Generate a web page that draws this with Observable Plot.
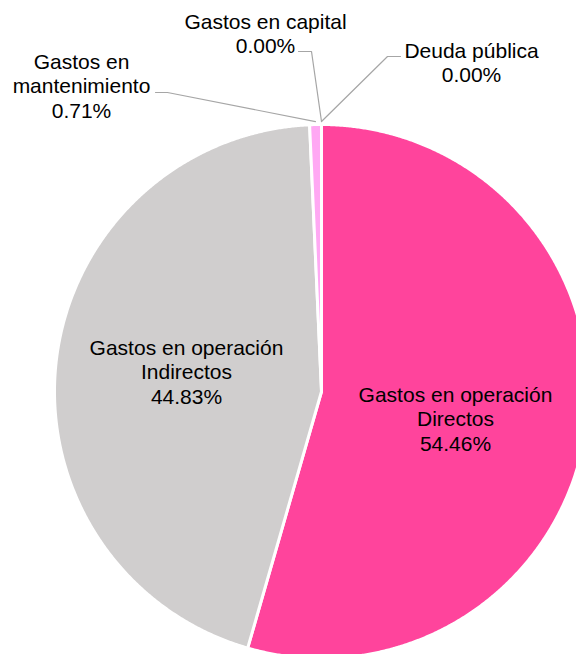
<!DOCTYPE html>
<html><head><meta charset="utf-8">
<script src="https://cdn.jsdelivr.net/npm/d3@7"></script>
<script src="https://cdn.jsdelivr.net/npm/@observablehq/plot@0.6"></script>
<style>html,body{margin:0;padding:0;background:#fff;overflow:hidden} svg{display:block}</style>
</head><body><div id="chart"></div>
<script>
// ---- data ----
const categories = [
  "Gastos en operación\nDirectos",
  "Gastos en operación\nIndirectos",
  "Gastos en\nmantenimiento",
  "Gastos en capital",
  "Deuda pública"
];
const shares = [54.46, 44.83, 0.71, 0.00, 0.00];
const sliceColors = ["#FF449C", "#D0CECE", "#FFA8F3", "#A5A5A5", "#7F7F7F"];
const percentLabels = shares.map(v => v.toFixed(2) + "%");

// ---- layout ----
const W = 576, H = 654, cx = 321, cy = 391, R = 267;
const labelPos = [[455, 418], [186, 371], [81, 85], [265, 32.5], [471, 61.5]];
const leaderElbows = [null, null, [[155, 92], [167, 92]], [[298, 51], [311, 51]], [[400, 56], [387, 56]]];

const arcs = d3.pie().sort(null).value(d => d)(shares);

const slicePts = [];
arcs.forEach((a, i) => {
  if (a.value <= 0) return;
  const n = Math.max(2, Math.ceil((a.endAngle - a.startAngle) / 0.005));
  slicePts.push({i, x: cx, y: cy, c: sliceColors[i]});
  for (let k = 0; k <= n; k++) {
    const t = a.startAngle + (a.endAngle - a.startAngle) * k / n;
    slicePts.push({i, x: cx + R * Math.sin(t), y: cy - R * Math.cos(t), c: sliceColors[i]});
  }
  slicePts.push({i, x: cx, y: cy, c: sliceColors[i]});
});

const leaderPts = [];
arcs.forEach((a, i) => {
  const e = leaderElbows[i];
  if (!e) return;
  const mid = (a.startAngle + a.endAngle) / 2;
  e.forEach(p => leaderPts.push({i, x: p[0], y: p[1]}));
  leaderPts.push({i, x: cx + (R + 3) * Math.sin(mid), y: cy - (R + 3) * Math.cos(mid)});
});

const labels = categories.map((c, i) => ({
  x: labelPos[i][0], y: labelPos[i][1], text: c + "\n" + percentLabels[i]
}));

const chart = Plot.plot({
  width: W, height: H,
  margin: 0,
  x: {domain: [0, W], range: [0, W], axis: null},
  y: {domain: [0, H], range: [0, H], axis: null},
  color: {type: "identity"},
  style: {fontFamily: "'Liberation Sans', Arial, sans-serif", background: "#fff"},
  marks: [
    Plot.line(slicePts, {x: "x", y: "y", z: "i", fill: "c", stroke: "#fff", strokeWidth: 3, strokeLinejoin: "round"}),
    Plot.line(leaderPts, {x: "x", y: "y", z: "i", stroke: "#A6A6A6", strokeWidth: 1.2}),
    Plot.text(labels, {x: "x", y: "y", text: "text", fontSize: 21, lineHeight: 1.16, fill: "#000", textAnchor: "middle"})
  ]
});
document.getElementById("chart").appendChild(chart);
</script>
</body></html>
